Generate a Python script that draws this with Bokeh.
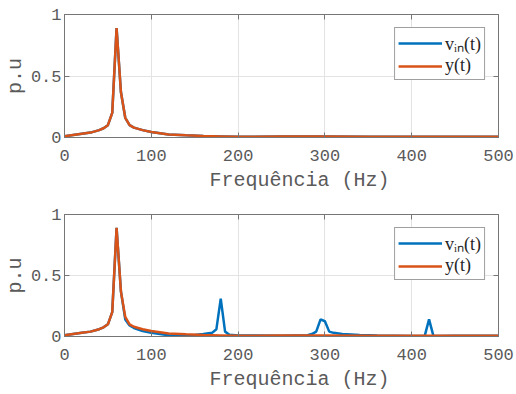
from bokeh.plotting import figure
from bokeh.layouts import column
from bokeh.models import Range1d, LinearAxis, FixedTicker, Legend, LegendItem
from bokeh.embed import file_html
from bokeh.resources import INLINE

# ---------------- data ----------------
freq_top = [0, 10, 20, 30, 40, 45, 50, 55, 60, 65, 70, 75, 80, 90, 100, 110, 120,
            140, 160, 180, 200, 250, 300, 350, 400, 450, 500]
vin_top = [0.01, 0.02, 0.03, 0.04, 0.06, 0.075, 0.1, 0.2, 0.89, 0.37, 0.16, 0.1, 0.08,
           0.06, 0.045, 0.035, 0.025, 0.018, 0.012, 0.009, 0.006, 0.008, 0.008, 0.007,
           0.006, 0.006, 0.006]
y_top = [0.01, 0.02, 0.03, 0.04, 0.06, 0.075, 0.1, 0.2, 0.89, 0.37, 0.16, 0.1, 0.08,
         0.06, 0.045, 0.035, 0.025, 0.018, 0.012, 0.009, 0.006, 0.008, 0.008, 0.007,
         0.006, 0.006, 0.006]

freq_bot_vin = [0, 10, 20, 30, 40, 45, 50, 55, 60, 65, 70, 75, 80, 90, 100, 110, 120,
                130, 140, 150, 160, 170, 175, 180, 185, 190, 200, 220, 250, 280, 285,
                290, 295, 300, 305, 310, 320, 340, 360, 400, 410, 415, 420, 425, 430,
                450, 500]
vin_bot = [0.01, 0.02, 0.03, 0.04, 0.06, 0.075, 0.1, 0.2, 0.89, 0.37, 0.14, 0.09, 0.07,
           0.045, 0.03, 0.02, 0.01, 0.005, 0.008, 0.012, 0.02, 0.03, 0.06, 0.31, 0.04,
           0.015, 0.008, 0.008, 0.006, 0.01, 0.02, 0.04, 0.14, 0.125, 0.04, 0.03, 0.02,
           0.012, 0.008, 0.005, 0.005, 0.005, 0.14, 0.005, 0.005, 0.006, 0.006]
freq_bot_y = freq_top
y_bot = y_top

x_ticks = [0, 100, 200, 300, 400, 500]
y_ticks = [0, 0.5, 1]
y_tick_labels = {0: "0", 0.5: "0.5", 1: "1"}
series_labels = ["v\u1d62\u2099(t)", "y(t)"]
x_label = "\u00a0\u00a0\u00a0Frequência (Hz)"
y_label = "p.u"

BLUE = "#0072BD"
ORANGE = "#D95319"
AX = "#767676"
TXT = "#5a5a5a"
MONO = "Liberation Mono"


def make_fig(height, border_bottom, fx_vin, v_vin, fx_y, v_y):
    p = figure(width=516, height=height, output_backend="svg", toolbar_location=None,
               x_range=Range1d(0, 500), y_range=Range1d(0, 1),
               min_border_left=63, min_border_right=18, min_border_top=14,
               min_border_bottom=border_bottom)
    p.outline_line_color = AX
    p.outline_line_width = 1
    p.background_fill_color = "white"
    p.border_fill_color = "white"

    for ax in (p.xaxis[0], p.yaxis[0]):
        ax.major_tick_in = 5
        ax.major_tick_out = 0
        ax.minor_tick_line_color = None
        ax.axis_line_color = AX
        ax.major_tick_line_color = AX
        ax.major_label_text_font = MONO
        ax.major_label_text_font_size = "17px"
        ax.major_label_text_color = TXT
        ax.axis_label_text_font = MONO
        ax.axis_label_text_font_size = "20px"
        ax.axis_label_text_font_style = "normal"
        ax.axis_label_text_color = TXT

    p.xaxis[0].ticker = FixedTicker(ticks=x_ticks)
    p.yaxis[0].ticker = FixedTicker(ticks=y_ticks)
    p.yaxis[0].major_label_overrides = y_tick_labels
    p.xaxis[0].axis_label = x_label
    p.yaxis[0].axis_label = y_label
    p.xaxis[0].major_label_standoff = 12
    p.xaxis[0].axis_label_standoff = 5
    p.yaxis[0].major_label_standoff = 3
    p.yaxis[0].axis_label_standoff = 1

    top = LinearAxis(ticker=FixedTicker(ticks=x_ticks), major_tick_in=5, major_tick_out=0,
                     minor_tick_line_color=None, axis_line_color=AX,
                     major_tick_line_color=AX, major_label_text_font_size="1px",
                     major_label_text_color=None, major_label_standoff=0)
    right = LinearAxis(ticker=FixedTicker(ticks=y_ticks), major_tick_in=5, major_tick_out=0,
                       minor_tick_line_color=None, axis_line_color=AX,
                       major_tick_line_color=AX, major_label_text_font_size="1px",
                       major_label_text_color=None, major_label_standoff=0)
    p.add_layout(top, "above")
    p.add_layout(right, "right")

    p.xgrid.ticker = FixedTicker(ticks=x_ticks)
    p.ygrid.ticker = FixedTicker(ticks=y_ticks)
    p.xgrid.grid_line_color = "#e3e3e3"
    p.ygrid.grid_line_color = "#e3e3e3"

    r1 = p.line(fx_vin, v_vin, line_color=BLUE, line_width=2.5)
    r2 = p.line(fx_y, v_y, line_color=ORANGE, line_width=2.5)

    leg = Legend(items=[LegendItem(label=series_labels[0], renderers=[r1]),
                        LegendItem(label=series_labels[1], renderers=[r2])],
                 location="top_right", margin=13, padding=3, spacing=0,
                 glyph_width=44, glyph_height=18, label_height=18, label_standoff=3,
                 label_text_font="Liberation Serif", label_text_font_size="18px",
                 label_text_color="#262626",
                 border_line_color="#404040", border_line_width=1,
                 background_fill_color="white", background_fill_alpha=1)
    p.add_layout(leg, "center")
    return p


p1 = make_fig(200, 63, freq_top, vin_top, freq_top, y_top)
p2 = make_fig(194, 58, freq_bot_vin, vin_bot, freq_bot_y, y_bot)

layout = column(p1, p2, spacing=0)
open("out.html", "w").write(file_html(layout, INLINE))
